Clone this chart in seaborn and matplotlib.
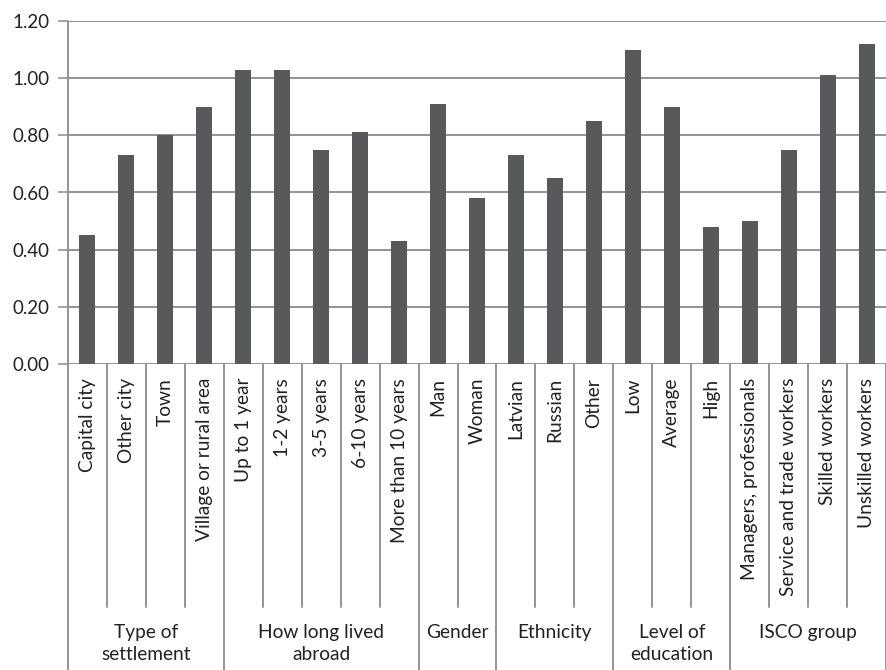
import matplotlib
matplotlib.use("Agg")
import matplotlib.pyplot as plt
import matplotlib.transforms as mtransforms
import pandas as pd
import seaborn as sns

# Factor levels and their values, grouped by variable
categories = [
    "Capital city", "Other city", "Town", "Village or rural area",
    "Up to 1 year", "1-2 years", "3-5 years", "6-10 years", "More than 10 years",
    "Man", "Woman",
    "Latvian", "Russian", "Other",
    "Low", "Average", "High",
    "Managers, professionals", "Service and trade workers",
    "Skilled workers", "Unskilled workers",
]
values = [
    0.45, 0.73, 0.80, 0.90,
    1.03, 1.03, 0.75, 0.81, 0.43,
    0.91, 0.58,
    0.73, 0.65, 0.85,
    1.10, 0.90, 0.48,
    0.50, 0.75, 1.01, 1.12,
]
group_names = ["Type of\nsettlement", "How long lived\nabroad", "Gender",
               "Ethnicity", "Level of\neducation", "ISCO group"]
group_sizes = [4, 5, 2, 3, 3, 4]
y_ticks = [0.0, 0.2, 0.4, 0.6, 0.8, 1.0, 1.2]

sns.set_style("white")
plt.rcParams["font.family"] = ["Lato", "DejaVu Sans"]

line_col = "#939393"
bar_col = "#58595b"
text_col = "#222222"

df = pd.DataFrame({"category": categories, "value": values})

W, H = 886, 670
fig = plt.figure(figsize=(W / 100, H / 100), dpi=100)
left, right, top, bottom = 68, 886, 21, 364
ax = fig.add_axes([left / W, (H - bottom) / H, (right - left) / W, (bottom - top) / H])

sns.barplot(data=df, x="category", y="value", order=categories, color=bar_col,
            width=0.41, saturation=1, ax=ax, zorder=3)
for p in ax.patches:
    p.set_edgecolor("none")

ax.set_xlim(-0.5, len(categories) - 0.5)
ax.set_ylim(0, 1.2)
ax.set_yticks(y_ticks)
ax.set_yticklabels([f"{t:.2f}" for t in y_ticks], fontsize=13.5, color=text_col)
ax.yaxis.grid(True, color=line_col, linewidth=1.4, zorder=0)
ax.set_axisbelow(True)
for s in ["top", "right", "left", "bottom"]:
    ax.spines[s].set_visible(False)
ax.tick_params(axis="y", length=7, width=1.2, color=line_col, pad=6, left=True)
ax.set_xlabel("")
ax.set_ylabel("")

# Rotated level labels
ax.set_xticks(range(len(categories)))
ax.set_xticklabels(categories, rotation=90, fontsize=13.8, color=text_col)
ax.tick_params(axis="x", length=0, pad=10)

# Separators between levels and between groups
trans = mtransforms.blended_transform_factory(ax.transData, ax.transAxes)
px = 1.0 / (bottom - top)
inner_end = -(607 - bottom) * px
outer_end = -(H - bottom + 2) * px
boundaries = []
pos = -0.5
for g in group_sizes:
    boundaries.append(pos)
    pos += g
boundaries.append(pos)
for i in range(len(categories) + 1):
    xb = i - 0.5
    y_end = outer_end if xb in boundaries else inner_end
    ax.plot([xb, xb], [0, y_end], color=line_col, lw=1.4, transform=trans,
            clip_on=False, zorder=1)
# left axis line
ax.plot([-0.5, -0.5], [0, 1], color=line_col, lw=1.4, transform=trans,
        clip_on=False, zorder=4)

# Group labels
for name, b0, b1 in zip(group_names, boundaries[:-1], boundaries[1:]):
    ax.text((b0 + b1) / 2, -(624 - bottom) * px, name, transform=trans,
            ha="center", va="top", fontsize=13.8, color=text_col, linespacing=1.35)

fig.savefig("out.png", dpi=100)
